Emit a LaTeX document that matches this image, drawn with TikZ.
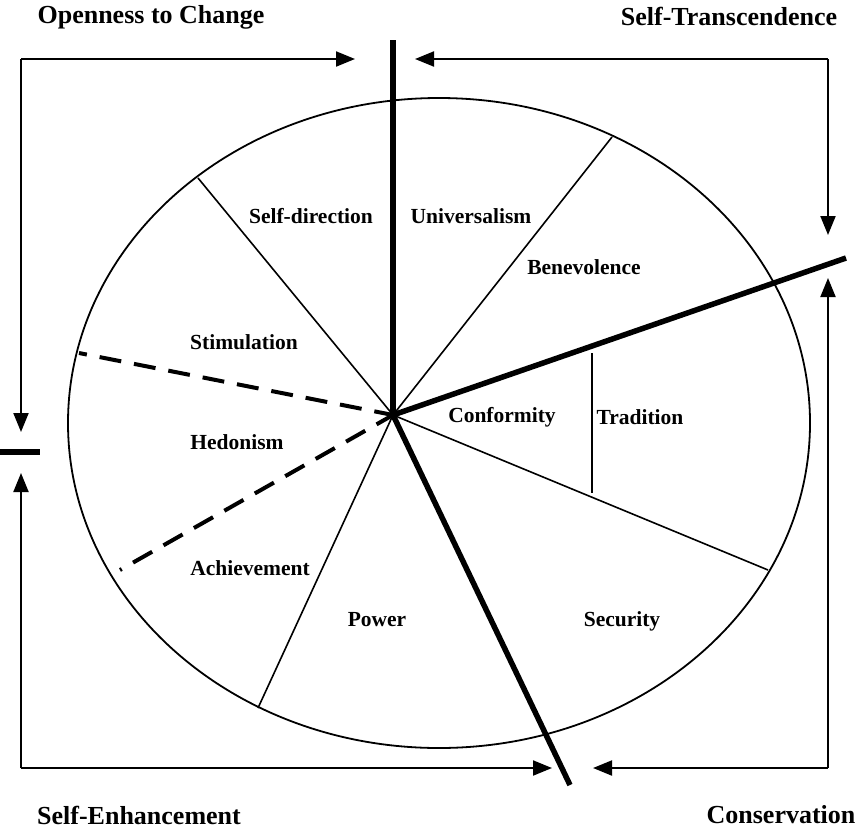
\documentclass[tikz,border=0pt]{standalone}
\usepackage{fontspec}
\setmainfont{Liberation Serif}
\usetikzlibrary{arrows.meta}
\begin{document}
\begin{tikzpicture}[x=1pt,y=-1pt,
  lbl/.style={font=\bfseries\fontsize{21.5}{24}\selectfont, inner sep=0pt},
  ttl/.style={font=\bfseries\fontsize{26}{30}\selectfont, inner sep=0pt},
  thin/.style={line width=1.6pt},
  thick/.style={line width=5.5pt},
  dsh/.style={line width=4pt, dash pattern=on 22pt off 13pt},
  arr/.style={line width=2pt, -{Triangle[length=19pt,width=15pt]}}]
\useasboundingbox (0,0) rectangle (858,830);
% ellipse
\draw[line width=1.8pt] (439,423) ellipse [x radius=371, y radius=325];
\coordinate (hub) at (393,415);
% end points
\coordinate (top) at (393,40);
\coordinate (ur) at (846,258);
\coordinate (lr) at (570,785);
\coordinate (sd) at (198,178);
\coordinate (ub) at (612,137);
\coordinate (cs) at (768,570);
\coordinate (ap) at (258,708);
\coordinate (d1) at (79,353);
\coordinate (d2) at (120,570);
\coordinate (t1) at (592,353);
\coordinate (t2) at (592,493);
% thin lines
\draw[thin] (hub) -- (sd);
\draw[thin] (hub) -- (ub);
\draw[thin] (hub) -- (cs);
\draw[thin] (hub) -- (ap);
\draw[thin] (t1) -- (t2);
% dashed
\draw[dsh, dash phase=14pt] (d1) -- (hub);
\draw[dsh, dash phase=20pt] (d2) -- (hub);
% thick
\draw[thick] (hub) -- (top);
\draw[thick] (hub) -- (ur);
\draw[thick] (hub) -- (lr);
\coordinate (barL) at (0,452);
\coordinate (barR) at (40,452);
\draw[line width=6pt] (barL) -- (barR);
% arrows
\coordinate (c1) at (21,59);
\coordinate (c2) at (828,59);
\coordinate (c3) at (21,768);
\coordinate (c4) at (828,768);
\coordinate (a1) at (355,59);
\coordinate (a2) at (21,432);
\coordinate (a3) at (415,59);
\coordinate (a4) at (828,235);
\coordinate (a5) at (21,473);
\coordinate (a6) at (552,768);
\coordinate (a7) at (593,768);
\coordinate (a8) at (828,278);
\draw[arr] (c1) -- (a1);
\draw[arr] (c1) -- (a2);
\draw[arr] (c2) -- (a3);
\draw[arr] (c2) -- (a4);
\draw[arr] (c3) -- (a5);
\draw[arr] (c3) -- (a6);
\draw[arr] (c4) -- (a7);
\draw[arr] (c4) -- (a8);
% labels
\node[lbl] (n1) at (311,216) {Self-direction};
\node[lbl] (n2) at (471,216) {Universalism};
\node[lbl] (n3) at (584,267) {Benevolence};
\node[lbl] (n4) at (244,342) {Stimulation};
\node[lbl] (n5) at (237,442) {Hedonism};
\node[lbl] (n6) at (250,568) {Achievement};
\node[lbl] (n7) at (377,620) {Power};
\node[lbl] (n8) at (622,621) {Security};
\node[lbl] (n9) at (502,417) {Conformity};
\node[lbl] (n10) at (640,417) {Tradition};
% titles
\node[ttl] (T1) at (151,17) {Openness to Change};
\node[ttl] (T2) at (729,16) {Self-Transcendence};
\node[ttl] (T3) at (139,815) {Self-Enhancement};
\node[ttl] (T4) at (781,815) {Conservation};
\end{tikzpicture}
\end{document}
